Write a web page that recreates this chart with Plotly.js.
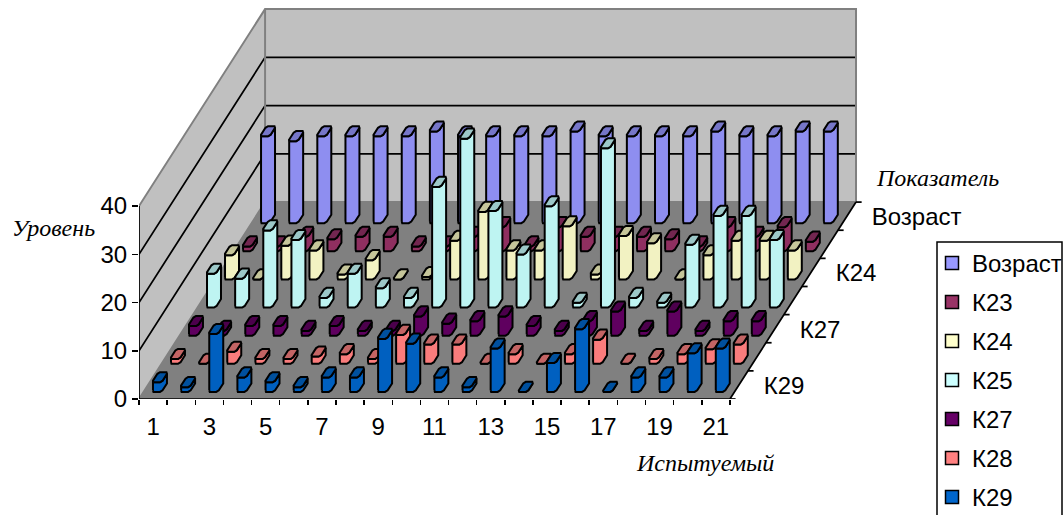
<!DOCTYPE html>
<html>
<head>
<meta charset="utf-8">
<script src="https://cdn.plot.ly/plotly-3.0.1.min.js"></script>
<style>html,body{margin:0;padding:0;background:#fff;overflow:hidden}</style>
</head>
<body>
<div id="chart" style="width:1064px;height:515px"></div>
<script>
// ---------- data ----------
var subjects = [1,2,3,4,5,6,7,8,9,10,11,12,13,14,15,16,17,18,19,20,21];
var seriesNames = ["Возраст","К23","К24","К25","К27","К28","К29"];
var vozrast = [18,17,18,18,18,18,19,18,18,18,18,19,18,18,18,18,19,18,18,19,19];
var k23 = [1,1,3,2.5,3,3,1,1,3,5,1,5,3,3,3,2.5,1,5,3,5,2];
var k24 = [5,0,7,6,1,4,0,0.5,8,14,6,6,11,1,9,7.5,0,5,8,8,6];
var k25 = [7,6,16,14,2,7,4,2,25,35,20,11,21,1,33,2,1,13,19,19,14];
var k27 = [2,1,2,2,1,2,1,1,4,2.5,3,4,2,1,3,5,1,5,1,3,3];
var k28 = [1,0,2.5,1,1,1.5,2,1,6,4,4,0,2,0,2,5,0,1,2,3,4];
var k29 = [2,1,12,3,2,1,3,3,11,10,3,1,9,0,6,13,0,3,3,8,9];
var seriesValues = [vozrast,k23,k24,k25,k27,k28,k29];
var levelTicks = [0,10,20,30,40];
var subjectTicks = [1,3,5,7,9,11,13,15,17,19,21];
var depthTickLabels = {"Возраст":6,"К24":4,"К27":2,"К29":0};

// ---------- style ----------
var legendColors = ["#9999FF","#993366","#FFFFCC","#CCFFFF","#660066","#FF8080","#0066CC"];
var bodyColors   = ["#8E8EF0","#8F2F60","#F2F2C2","#BEF4F2","#5F005F","#FA7C7C","#0060C0"];
var topColors    = ["#7676C8","#732650","#C6C69A","#9CC8C8","#4C004C","#C46464","#00509E"];
var INK = "#000000", WALL = "#C0C0C0", FLOOR = "#808080", EDGE = "#808080";

// ---------- oblique projection built on the plot's own axes ----------
var SHEAR_X = 0.64, SHEAR_Y = 5.83, ROWS = 7;
var CAT0 = 0.5, CAT1 = 21.5, MAXL = 40;
function proj(cat,row,level){ return [cat + SHEAR_X*row, level + SHEAR_Y*row]; }
function polyTrace(pts,fill,lineColor,lineW){
  return {type:"scatter",mode:lineColor?"lines":"none",x:pts.map(function(p){return p[0]}),y:pts.map(function(p){return p[1]}),
    fill:"toself",fillcolor:fill,line:{color:lineColor||fill,width:lineW||0},showlegend:false,hoverinfo:"skip",cliponaxis:false};
}
function lineTrace(segs,color,w){
  var xs=[],ys=[];
  segs.forEach(function(s){ s.forEach(function(p){xs.push(p[0]);ys.push(p[1]);}); xs.push(null);ys.push(null); });
  return {type:"scatter",mode:"lines",x:xs,y:ys,line:{color:color,width:w},showlegend:false,hoverinfo:"skip",cliponaxis:false};
}
var traces = [];
// walls and floor
traces.push(polyTrace([proj(CAT0,0,0),proj(CAT0,0,MAXL),proj(CAT0,ROWS,MAXL),proj(CAT0,ROWS,0),proj(CAT0,0,0)],WALL));
traces.push(polyTrace([proj(CAT0,ROWS,0),proj(CAT0,ROWS,MAXL),proj(CAT1,ROWS,MAXL),proj(CAT1,ROWS,0),proj(CAT0,ROWS,0)],WALL));
traces.push(polyTrace([proj(CAT0,0,0),proj(CAT1,0,0),proj(CAT1,ROWS,0),proj(CAT0,ROWS,0),proj(CAT0,0,0)],FLOOR));
// grid on the walls
var gridSegs=[];
[10,20,30].forEach(function(l){
  gridSegs.push([proj(CAT0,0,l),proj(CAT0,ROWS,l),proj(CAT1,ROWS,l)]);
});
traces.push(lineTrace(gridSegs,INK,1.75));
traces.push(lineTrace([[proj(CAT0,0,MAXL),proj(CAT0,ROWS,MAXL),proj(CAT1,ROWS,MAXL),proj(CAT1,ROWS,0),proj(CAT0,ROWS,0),proj(CAT0,0,0)],[proj(CAT0,ROWS,0),proj(CAT0,ROWS,MAXL)]],EDGE,2));
// axis frame and depth ticks
var depthTicks=[];
for(var r=0;r<=ROWS;r++){ var p=proj(CAT1,r,0); depthTicks.push([p,[p[0]+0.2,p[1]]]); }
traces.push(lineTrace([[proj(CAT0,0,MAXL),proj(CAT0,0,0),proj(CAT1,0,0),proj(CAT1,ROWS,0)]].concat(depthTicks),INK,1.75));

// bars
var HW=0.17, HD=0.18, C=0.32, ROW_OFFSET=0.43, CAT_OFFSET=-0.03;
var lower=[[-1,-1+C],[-1+C,-1],[1-C,-1],[1,-1+C],[1,1-C]];
var ring=[[-1+C,-1],[1-C,-1],[1,-1+C],[1,1-C],[1-C,1],[-1+C,1],[-1,1-C],[-1,-1+C],[-1+C,-1]];
function fp(cat,row,uv,level){ return proj(cat+CAT_OFFSET+uv[0]*HW,row+ROW_OFFSET+uv[1]*HD,level); }
seriesNames.forEach(function(name,s){
  var row=ROWS-1-s, values=seriesValues[s];
  var bx=[],by=[],tx=[],ty=[];
  subjects.forEach(function(cat,i){
    var v=values[i], pts=[];
    lower.forEach(function(uv){pts.push(fp(cat,row,uv,0));});
    lower.slice().reverse().forEach(function(uv){pts.push(fp(cat,row,uv,v));});
    pts.push(pts[0]);
    pts.forEach(function(p){bx.push(p[0]);by.push(p[1]);}); bx.push(null);by.push(null);
    ring.forEach(function(uv){var p=fp(cat,row,uv,v);tx.push(p[0]);ty.push(p[1]);}); tx.push(null);ty.push(null);
  });
  traces.push({type:"scatter",mode:"lines",x:bx,y:by,fill:"toself",fillcolor:bodyColors[s],line:{color:INK,width:2},showlegend:false,hoverinfo:"skip",cliponaxis:false});
  traces.push({type:"scatter",mode:"lines",x:tx,y:ty,fill:"toself",fillcolor:topColors[s],line:{color:INK,width:2},showlegend:false,hoverinfo:"skip",cliponaxis:false});
});
// depth labels
var dn=Object.keys(depthTickLabels);
traces.push({type:"scatter",mode:"text",
  x:dn.map(function(n){return proj(CAT1,depthTickLabels[n]+0.5,0)[0]+0.88;}),
  y:dn.map(function(n){return proj(CAT1,depthTickLabels[n]+0.5,0)[1]-0.6;}),
  text:dn,textposition:"middle right",textfont:{family:"Liberation Sans",size:24,color:INK},showlegend:false,hoverinfo:"skip",cliponaxis:false});
// legend entries
seriesNames.forEach(function(name,s){
  traces.push({type:"scatter",mode:"markers",x:[null],y:[null],name:name,legendgroup:name,showlegend:true,
    marker:{symbol:"square",size:13,color:legendColors[s],line:{color:INK,width:1.5}}});
});

// ---------- layout ----------
var L=139,B=399,PW=925,PH=399,PXCAT=28.14,PXLEVEL=4.825;
function px(x){return (x-L)/PW;}
function py(y){return (B-y)/PH;}
function note(text,x,y){
  return {text:text,xref:"paper",yref:"paper",x:px(x),y:py(y),xanchor:"center",yanchor:"middle",showarrow:false,
    font:{family:"Liberation Serif",size:24,color:INK,style:"italic"}};
}
var minorTicks=[]; for(var c=0;c<=21;c++) minorTicks.push(CAT0+c);
var layout={
  width:1064,height:515,paper_bgcolor:"#fff",plot_bgcolor:"#fff",showlegend:true,hovermode:false,
  margin:{l:L,r:0,t:0,b:515-B,pad:0,autoexpand:false},
  font:{family:"Liberation Sans",size:24,color:INK},
  xaxis:{range:[CAT0,CAT0+PW/PXCAT],tickmode:"array",tickvals:subjectTicks,ticktext:subjectTicks.map(String),ticks:"",showgrid:false,zeroline:false,showline:false,automargin:false,
    ticklabelstandoff:11,tickfont:{family:"Liberation Sans",size:24,color:INK},
    minor:{tickmode:"array",tickvals:minorTicks,ticks:"outside",ticklen:5,tickwidth:1.5,tickcolor:INK,showgrid:false}},
  yaxis:{range:[0,PH/PXLEVEL],tickmode:"array",tickvals:levelTicks,ticktext:levelTicks.map(String),ticks:"outside",ticklen:6,tickwidth:1.5,tickcolor:INK,showgrid:false,zeroline:false,showline:false,automargin:false,
    tickfont:{family:"Liberation Sans",size:24,color:INK}},
  shapes:[{type:"rect",xref:"paper",yref:"paper",x0:px(937),x1:px(1062),y0:py(242),y1:py(525),line:{color:INK,width:1.5},fillcolor:"#fff"}],
  legend:{x:px(937),y:py(241),xanchor:"left",yanchor:"top",bgcolor:"rgba(0,0,0,0)",borderwidth:0,traceorder:"grouped",tracegroupgap:4.8,indentation:-5,itemclick:false,itemdoubleclick:false,
    font:{family:"Liberation Sans",size:24,color:INK}},
  annotations:[note("Уровень",53,228),note("Показатель",937,178),note("Испытуемый",705,463)]
};
Plotly.newPlot("chart",traces,layout,{staticPlot:true,displayModeBar:false});
</script>
</body>
</html>
